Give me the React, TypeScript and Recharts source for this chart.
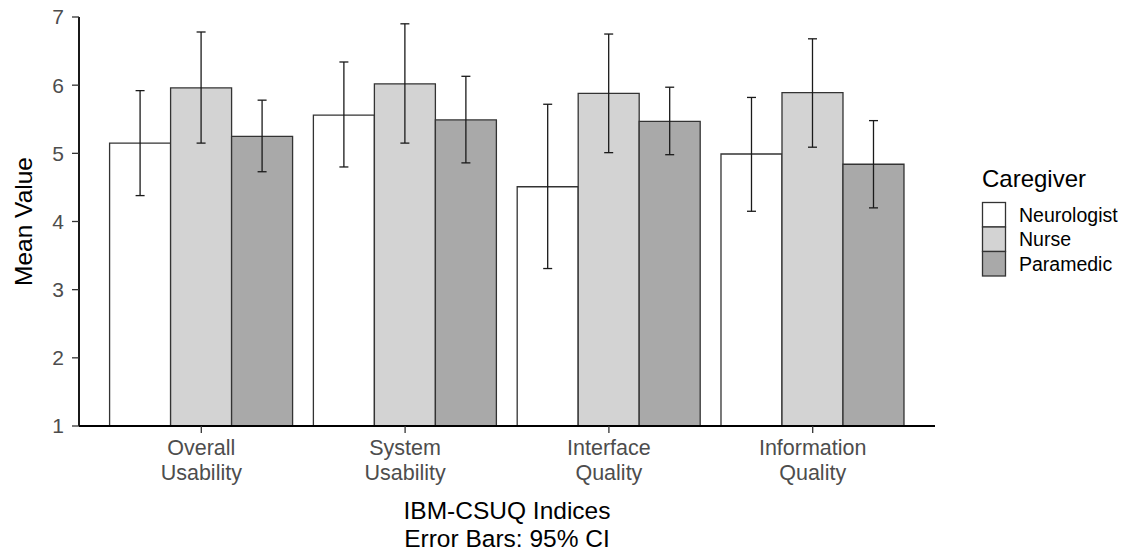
import { Bar, BarChart, ErrorBar, Legend, XAxis, YAxis } from "recharts"

const FONT = "'Liberation Sans', Arial, Helvetica, sans-serif"

const indices = ["Overall Usability", "System Usability", "Interface Quality", "Information Quality"]
const caregivers = ["Neurologist", "Nurse", "Paramedic"]
const fills = ["#ffffff", "#d3d3d3", "#a9a9a9"]
const yTicks = [1, 2, 3, 4, 5, 6, 7]

const neurologistMean = [5.15, 5.56, 4.51, 4.99]
const neurologistLow = [4.38, 4.8, 3.31, 4.15]
const neurologistHigh = [5.92, 6.34, 5.72, 5.82]

const nurseMean = [5.96, 6.02, 5.88, 5.89]
const nurseLow = [5.15, 5.15, 5.01, 5.09]
const nurseHigh = [6.78, 6.9, 6.75, 6.68]

const paramedicMean = [5.25, 5.49, 5.47, 4.84]
const paramedicLow = [4.73, 4.86, 4.98, 4.2]
const paramedicHigh = [5.78, 6.13, 5.97, 5.48]

const series = [
  { mean: neurologistMean, low: neurologistLow, high: neurologistHigh },
  { mean: nurseMean, low: nurseLow, high: nurseHigh },
  { mean: paramedicMean, low: paramedicLow, high: paramedicHigh },
]

const data = indices.map((name, i) => {
  const row: Record<string, any> = { name }
  caregivers.forEach((c, k) => {
    const s = series[k]
    row[c] = s.mean[i]
    row[c + "Err"] = [s.mean[i] - s.low[i], s.high[i] - s.mean[i]]
  })
  return row
})

function CategoryTick(props: any) {
  const { x, y, payload } = props
  const lines = String(payload.value).split(" ")
  return (
    <text x={x} y={y} textAnchor="middle" fill="#4d4d4d" fontSize={21.5} fontFamily={FONT}>
      {lines.map((l, i) => (
        <tspan key={i} x={x} dy={i === 0 ? 22 : 25}>
          {l}
        </tspan>
      ))}
    </text>
  )
}

function XTitle(props: any) {
  const vb = props.viewBox
  const cx = vb.x + vb.width / 2
  return (
    <text x={cx} textAnchor="middle" fill="#000" fontSize={24.5} fontFamily={FONT}>
      <tspan x={cx} y={519}>IBM-CSUQ Indices</tspan>
      <tspan x={cx} y={547}>Error Bars: 95% CI</tspan>
    </text>
  )
}

function YTitle(props: any) {
  const vb = props.viewBox
  const cy = vb.y + vb.height / 2
  return (
    <text
      x={23}
      y={cy}
      dy="0.36em"
      transform={`rotate(-90 23 ${cy})`}
      textAnchor="middle"
      fill="#000"
      fontSize={24.5}
      fontFamily={FONT}
    >
      Mean Value
    </text>
  )
}

function CaregiverLegend() {
  return (
    <svg width={150} height={130} style={{ fontFamily: FONT }}>
      <text x={7} y={27} fontSize={24} fill="#000">
        Caregiver
      </text>
      {caregivers.map((c, i) => (
        <g key={c}>
          <rect x={7.5} y={42.5 + i * 24.5} width={23} height={24.5} fill={fills[i]} stroke="#333" strokeWidth={1.3} />
          <text x={44} y={42.5 + i * 24.5 + 12.25 + 7} fontSize={19.5} fill="#000">
            {c}
          </text>
        </g>
      ))}
    </svg>
  )
}

export default function App() {
  return (
    <div style={{ position: "absolute", left: 0, top: 0 }}>
      <BarChart
        width={1125}
        height={560}
        data={data}
        margin={{ top: 17, right: 190, bottom: 74, left: 0 }}
        barCategoryGap="5%"
        barGap={0}
        style={{ fontFamily: FONT }}
      >
        <XAxis
          dataKey="name"
          height={60}
          padding={{ left: 20.4, right: 20.4 }}
          tick={<CategoryTick />}
          tickSize={7}
          tickMargin={0}
          interval={0}
          axisLine={{ stroke: "#000", strokeWidth: 1.8 }}
          tickLine={{ stroke: "#333", strokeWidth: 1.3 }}
          label={{ content: <XTitle /> }}
        />
        <YAxis
          type="number"
          domain={[1, 7]}
          ticks={yTicks}
          interval={0}
          width={79}
          tickSize={7}
          tickMargin={8}
          tick={{ fill: "#4d4d4d", fontSize: 21 }}
          axisLine={{ stroke: "#000", strokeWidth: 1.8 }}
          tickLine={{ stroke: "#333", strokeWidth: 1.3 }}
          label={{ content: <YTitle /> }}
        />
        <Legend
          layout="vertical"
          align="center"
          verticalAlign="middle"
          wrapperStyle={{ left: 975, top: 160, width: 150 }}
          content={<CaregiverLegend />}
        />
        {caregivers.map((c, k) => (
          <Bar key={c} dataKey={c} fill={fills[k]} stroke="#333" strokeWidth={1.3} isAnimationActive={false}>
            <ErrorBar dataKey={c + "Err"} width={4.5} stroke="#1a1a1a" strokeWidth={1.3} />
          </Bar>
        ))}
      </BarChart>
    </div>
  )
}
